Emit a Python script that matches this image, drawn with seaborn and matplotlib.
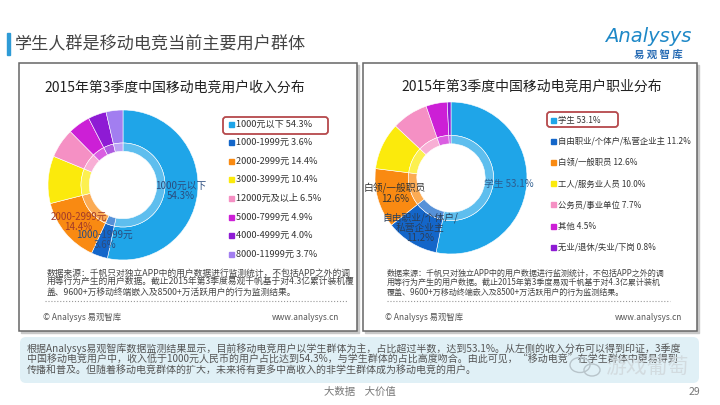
import numpy as np
import seaborn as sns
import matplotlib
matplotlib.use("Agg")
import matplotlib.pyplot as plt
from matplotlib.patches import Rectangle, FancyBboxPatch, Ellipse
from matplotlib import colors as mcolors

# ---- data ----
income_cats = ["1000元以下", "1000-1999元", "2000-2999元", "3000-3999元",
               "12000元及以上", "5000-7999元", "4000-4999元", "8000-11999元"]
income_vals = [54.3, 3.6, 14.4, 10.4, 6.5, 4.9, 4.0, 3.7]
income_tags = ["1000元以下\n54.3%", "1000-1999元\n3.6%", "2000-2999元\n14.4%", "", "", "", "", ""]

job_cats = ["学生", "自由职业/个体户/私营企业主", "白领/一般职员", "工人/服务业人员",
            "公务员/事业单位", "其他", "无业/退休/失业/下岗"]
job_vals = [53.1, 11.2, 12.6, 10.0, 7.7, 4.5, 0.8]
job_tags = ["学生 53.1%", "自由职业/个体户/\n私营企业主\n11.2%", "白领/一般职员\n12.6%", "", "", "", ""]

title = "学生人群是移动电竞当前主要用户群体"
income_title = "2015年第3季度中国移动电竞用户收入分布"
job_title = "2015年第3季度中国移动电竞用户职业分布"
note_left = ["数据来源：千帆只对独立APP中的用户数据进行监测统计，不包括APP之外的调",
             "用等行为产生的用户数据。截止2015年第3季度易观千帆基于对4.3亿累计装机覆",
             "盖、9600+万移动终端嵌入及8500+万活跃用户的行为监测结果。"]
note_right = ["数据来源：千帆只对独立APP中的用户数据进行监测统计，不包括APP之外的调",
              "用等行为产生的用户数据。截止2015年第3季度易观千帆基于对4.3亿累计装机",
              "覆盖、9600+万移动终端嵌入及8500+万活跃用户的行为监测结果。"]
summary = ["根据Analysys易观智库数据监测结果显示，目前移动电竞用户以学生群体为主，占比超过半数，达到53.1%。从左侧的收入分布可以得到印证，3季度",
           "中国移动电竞用户中，收入低于1000元人民币的用户占比达到54.3%，与学生群体的占比高度吻合。由此可见，“移动电竞”在学生群体中更易得到",
           "传播和普及。但随着移动电竞群体的扩大，未来将有更多中高收入的非学生群体成为移动电竞的用户。"]

palette = ["#1fa5e8", "#1466c9", "#f98a12", "#fbea0c", "#f590c4", "#cc1fd6", "#8e1bd4", "#a27ef0"]

sns.set_theme(style="white")
plt.rcParams["font.family"] = ["Noto Sans CJK SC", "DejaVu Sans"]

W, H = 720, 405
fig = plt.figure(figsize=(7.2, 4.05), dpi=100)
bg = fig.add_axes([0, 0, 1, 1])
bg.set_xlim(0, W)
bg.set_ylim(H, 0)
bg.axis("off")


def lighten(c, k=0.28):
    r, g, b = mcolors.to_rgb(c)
    return (r + (1 - r) * k, g + (1 - g) * k, b + (1 - b) * k)


def donut(cx, cy, r, vals, cols, tags, tag_cols):
    ax = fig.add_axes([(cx - r) / W, 1 - (cy + r) / H, 2 * r / W, 2 * r / H])
    wedges, _ = ax.pie(vals, colors=cols, startangle=90, counterclock=False, radius=1,
                       wedgeprops=dict(width=0.44, edgecolor="white", linewidth=0.4))
    ax.pie(vals, colors=[lighten(c) for c in cols], startangle=90, counterclock=False,
           radius=0.56, wedgeprops=dict(width=0.11, edgecolor="white", linewidth=0.4))
    for w, t, tc in zip(wedges, tags, tag_cols):
        if t:
            ang = np.deg2rad((w.theta1 + w.theta2) / 2)
            ax.text(0.77 * np.cos(ang), 0.77 * np.sin(ang), t, ha="center", va="center",
                    fontsize=7, color=tc, linespacing=1.0)
    ax.set_xlim(-1, 1)
    ax.set_ylim(-1, 1)
    return ax


def legend(x, y0, dy, cats, vals, cols, fs):
    for i, (c, v, col) in enumerate(zip(cats, vals, cols)):
        y = y0 + i * dy
        bg.add_patch(Rectangle((x - 2.5, y - 2.5), 5, 5, color=col, zorder=3))
        bg.text(x + 4.5, y, f"{c} {v}%", fontsize=fs, va="center", ha="left", color="#333333", zorder=3)


# ---- header ----
bg.add_patch(Rectangle((7, 33), 2.5, 22, color="#2e9bd6"))
bg.text(15, 44, title, fontsize=12.3, color="#444444", va="center", ha="left")
bg.text(648, 36, "Analysys", fontsize=14, style="italic", color="#1e88c7", ha="center", va="center",
        family="DejaVu Sans")
bg.text(658, 55, "易 观 智 库", fontsize=7.5, color="#2a6db5", ha="center", va="center", weight="bold")

# ---- panels ----
for x0, x1 in [(19, 357), (363, 697)]:
    bg.add_patch(Rectangle((x0 + 2, 65), x1 - x0, 268, color="#c8c8c8", zorder=0))
    bg.add_patch(Rectangle((x0, 63), x1 - x0, 268, facecolor="white", edgecolor="#666666", lw=1.1, zorder=1))

bg.text(175, 88, income_title, fontsize=10, color="#222222", ha="center", va="center", zorder=3)
bg.text(532, 87, job_title, fontsize=10, color="#222222", ha="center", va="center", zorder=3)

donut(123, 185, 75, income_vals, palette, income_tags,
      ["#2b4c7e", "#2b4c7e", "#a23a2a"] + ["#333333"] * 5)
donut(451, 178, 76, job_vals, palette[:7], job_tags,
      ["#2d5d8f", "#2a3f5a", "#333333"] + ["#333333"] * 4)

legend(231, 124, 18.6, income_cats, income_vals, palette, 6.6)
legend(553, 120, 21.2, job_cats, job_vals, palette[:7], 6.0)

bg.add_patch(FancyBboxPatch((223, 117), 105, 17, boxstyle="round,pad=0,rounding_size=3",
                            fill=False, ec="#b5484b", lw=1.3, zorder=4))
bg.add_patch(FancyBboxPatch((547, 112), 71, 15, boxstyle="round,pad=0,rounding_size=3",
                            fill=False, ec="#b5484b", lw=1.3, zorder=4))

for i, line in enumerate(note_left):
    bg.text(47, 273 + i * 9.5, line, fontsize=6.3, color="#444444", va="center", ha="left", zorder=3)
for i, line in enumerate(note_right):
    bg.text(387, 273 + i * 9.5, line, fontsize=5.8, color="#444444", va="center", ha="left", zorder=3)

bg.plot([45, 348], [301, 301], ls=":", color="#999999", lw=0.8, zorder=3)
bg.plot([387, 670], [301, 301], ls=":", color="#999999", lw=0.8, zorder=3)

for xl, xr in [(43, 339), (385, 682)]:
    bg.text(xl, 317, "© Analysys 易观智库", fontsize=6, color="#555555", va="center", ha="left", zorder=3)
    bg.text(xr, 317, "www.analysys.cn", fontsize=6, color="#555555", va="center", ha="right", zorder=3)

# ---- summary box ----
bg.add_patch(FancyBboxPatch((20, 337), 679, 46, boxstyle="round,pad=0,rounding_size=6",
                            facecolor="#e0f0f6", edgecolor="none", zorder=1))
for i, line in enumerate(summary):
    bg.text(27, 349 + i * 10.5, line, fontsize=7.2, color="#555555", va="center", ha="left", zorder=3)

# watermark
bg.add_patch(Ellipse((580, 365), 20, 15, fill=False, ec="#b8c4ca", lw=1.0, zorder=5))
bg.add_patch(Ellipse((592, 370), 16, 12, fill=False, ec="#b8c4ca", lw=1.0, zorder=5))
bg.text(647, 367, "游戏葡萄", fontsize=15, color="#d0d8dc", ha="center", va="center", zorder=5,
        style="italic", alpha=0.85)

bg.text(360, 392, "大数据    大价值", fontsize=7.5, color="#777777", ha="center", va="center")
bg.text(700, 392, "29", fontsize=7.5, color="#777777", ha="right", va="center")

fig.savefig("out.png", dpi=100)
